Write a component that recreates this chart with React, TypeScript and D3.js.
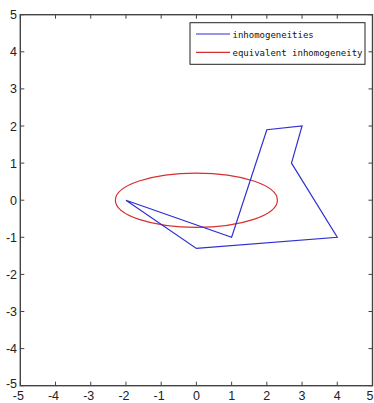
import React from "react";
import * as d3 from "d3";

// Inhomogeneity outline (closed polygon), in plot units
const polyX = [-2, 1, 2, 3, 2.7, 4, 0, -2];
const polyY = [0, -1, 1.9, 2, 1, -1, -1.3, 0];

// Equivalent inhomogeneity: ellipse center and semi-axes
const ellipseCenter = [0, 0];
const ellipseAxes = [2.3, 0.73];

const xTicks = [-5, -4, -3, -2, -1, 0, 1, 2, 3, 4, 5];
const yTicks = [-5, -4, -3, -2, -1, 0, 1, 2, 3, 4, 5];
const legendLabels = ["inhomogeneities", "equivalent inhomogeneity"];

const W = 374;
const H = 403;
const BLUE = "#2f2fd2";
const RED = "#d43030";
const AXIS = "#444";
const TICK_FONT = "Liberation Sans, Arial, sans-serif";

export default function App() {
  const x = d3.scaleLinear().domain([-5, 5]).range([20.3, 372.5]);
  const y = d3.scaleLinear().domain([-5, 5]).range([385.7, 14.7]);

  const pts: [number, number][] = polyX.map((v, i) => [v, polyY[i]]);
  const line = d3
    .line<[number, number]>()
    .x((d) => x(d[0]))
    .y((d) => y(d[1]));

  const [x0, x1] = x.range();
  const [y0, y1] = y.range();
  const tl = 4;

  return (
    <svg
      width={W}
      height={H}
      style={{ position: "absolute", left: 0, top: 0, background: "#fff" }}
    >
      {/* data */}
      <ellipse
        cx={x(ellipseCenter[0])}
        cy={y(ellipseCenter[1])}
        rx={x(ellipseAxes[0]) - x(0)}
        ry={y(0) - y(ellipseAxes[1])}
        fill="none"
        stroke={RED}
        strokeWidth={1.2}
      />
      <path d={line(pts) ?? ""} fill="none" stroke={BLUE} strokeWidth={1.2} />

      {/* axes box */}
      <rect
        x={x0}
        y={y1}
        width={x1 - x0}
        height={y0 - y1}
        fill="none"
        stroke={AXIS}
        strokeWidth={1.4}
      />
      {xTicks.map((t) => (
        <g key={"x" + t}>
          <line x1={x(t)} x2={x(t)} y1={y0} y2={y0 - tl} stroke={AXIS} />
          <line x1={x(t)} x2={x(t)} y1={y1} y2={y1 + tl} stroke={AXIS} />
          <text
            x={Math.min(x(t) - (t < 0 ? 2 : 0), W - 4)}
            y={400}
            fontFamily={TICK_FONT}
            fontSize={12.5}
            textAnchor="middle"
            fill="#222"
          >
            {t}
          </text>
        </g>
      ))}
      {yTicks.map((t) => (
        <g key={"y" + t}>
          <line x1={x0} x2={x0 + tl} y1={y(t)} y2={y(t)} stroke={AXIS} />
          <line x1={x1} x2={x1 - tl} y1={y(t)} y2={y(t)} stroke={AXIS} />
          <text
            x={17}
            y={y(t) + (t === -5 ? 2 : 4.5)}
            fontFamily={TICK_FONT}
            fontSize={12.5}
            textAnchor="end"
            fill="#222"
          >
            {t}
          </text>
        </g>
      ))}

      {/* legend */}
      <rect x={190} y={22.7} width={175} height={41.6} fill="#fff" stroke="#222" strokeWidth={1} />
      {legendLabels.map((lab, i) => (
        <g key={lab}>
          <line
            x1={196}
            x2={230}
            y1={34 + i * 18.3}
            y2={34 + i * 18.3}
            stroke={i === 0 ? BLUE : RED}
            strokeWidth={1.2}
          />
          <text
            x={232.5}
            y={37.5 + i * 18.3}
            fontFamily="DejaVu Sans Mono, monospace"
            fontSize={9}
            fill="#111"
          >
            {lab}
          </text>
        </g>
      ))}
    </svg>
  );
}
